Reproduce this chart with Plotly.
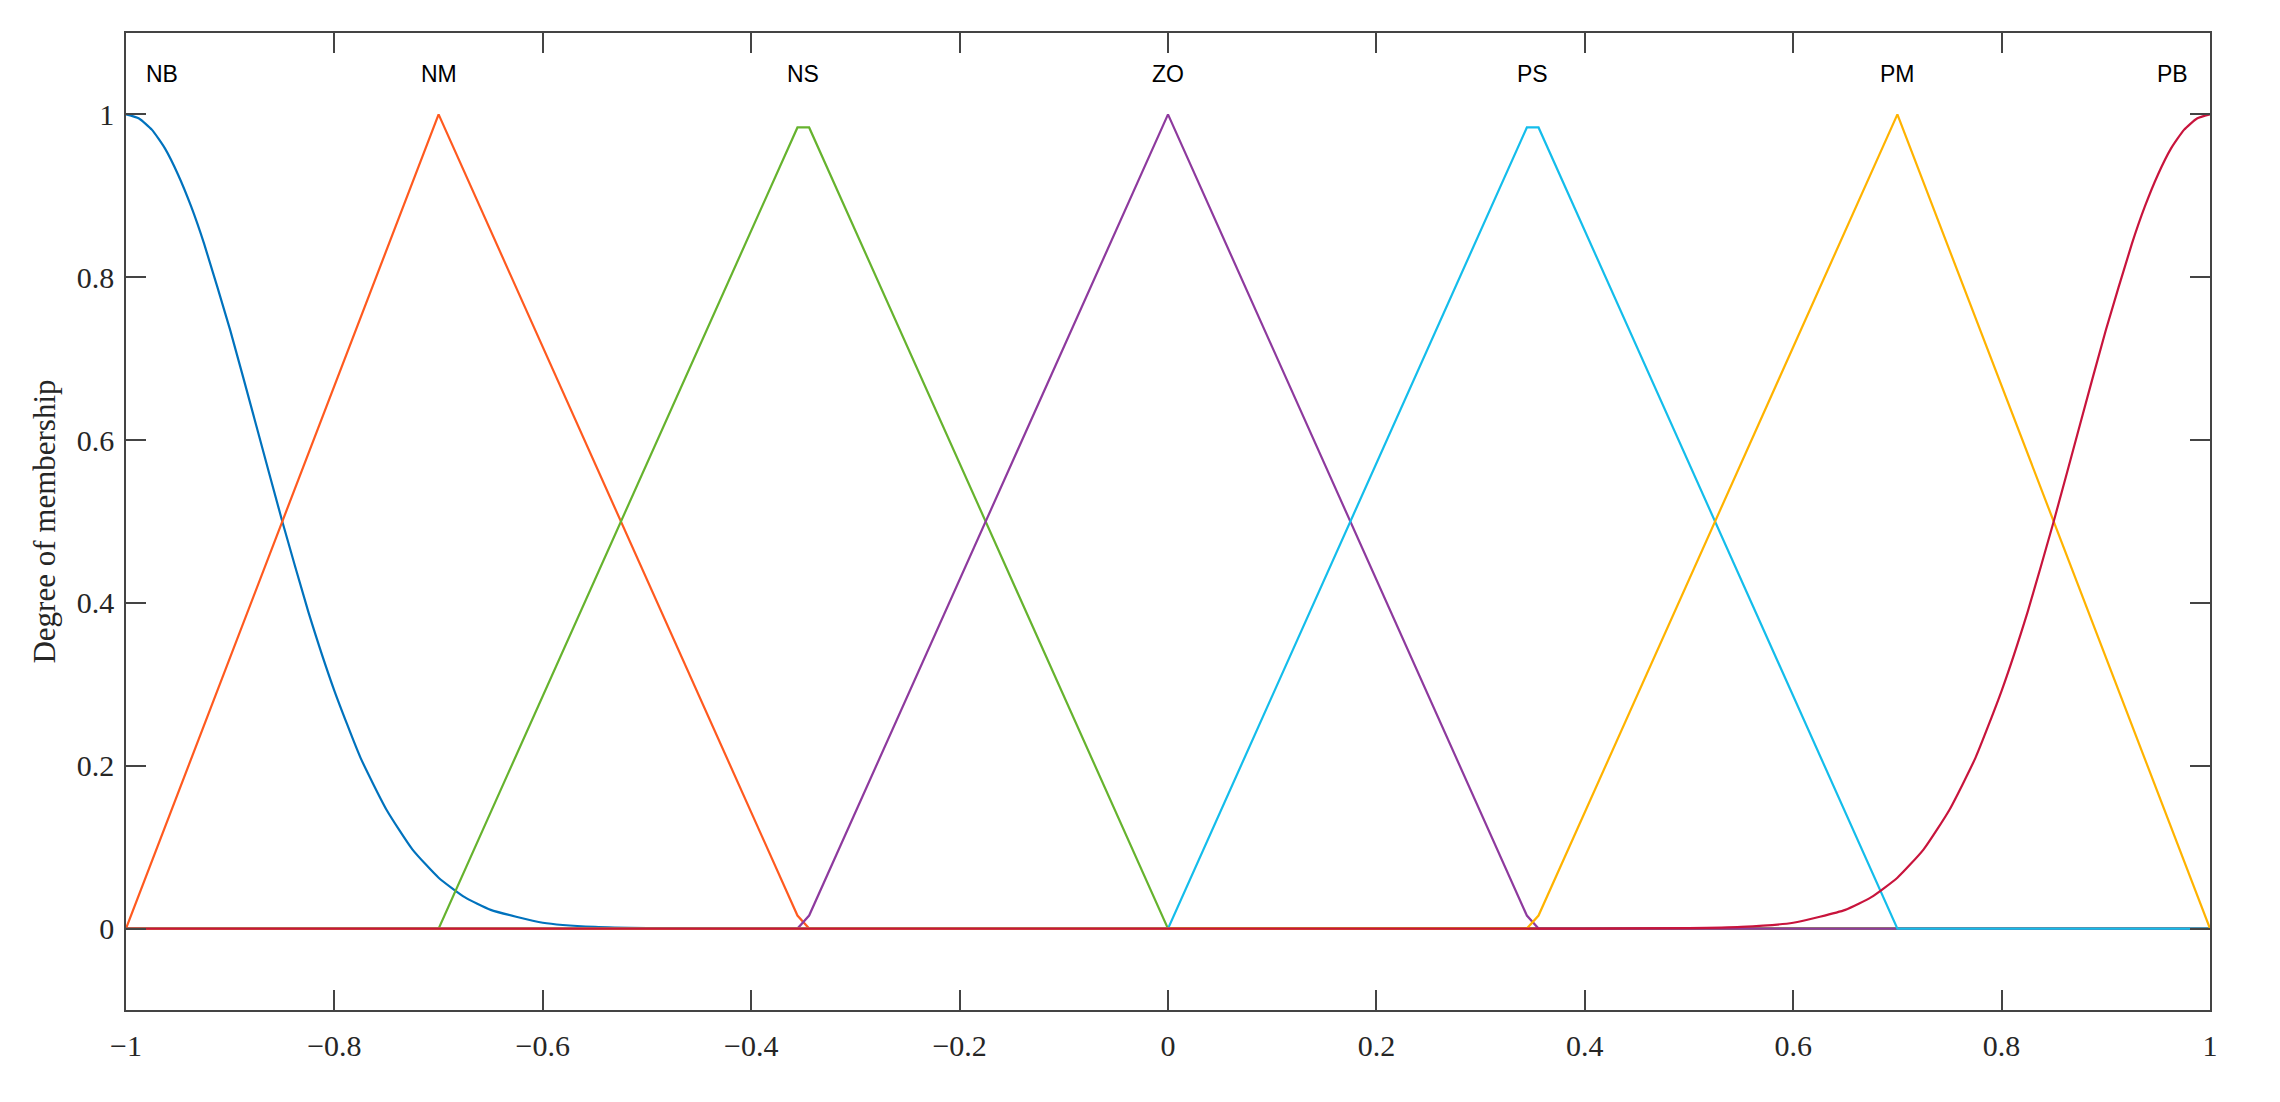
import plotly.graph_objects as go

# membership functions
names = ["NB", "NM", "NS", "ZO", "PS", "PM", "PB"]
colors = ["#0072BD", "#FF5A1F", "#66B32E", "#8E3A9E", "#14BDEB", "#FFB300", "#C8143C"]

# NB: smooth shoulder on the left
nb_x = [-1.0, -0.9875, -0.975, -0.9625, -0.95, -0.9375, -0.925, -0.9, -0.875, -0.85, -0.825,
        -0.8, -0.775, -0.75, -0.725, -0.7, -0.675, -0.65, -0.6, -0.55, -0.5, -0.4, 1.0]
nb_y = [1.0, 0.995, 0.981, 0.958, 0.926, 0.887, 0.841, 0.735, 0.618, 0.5, 0.389,
        0.292, 0.21, 0.146, 0.097, 0.0625, 0.0386, 0.023, 0.0072, 0.002, 0.0005, 0.0, 0.0]

nm_x = [-1.0, -0.7, -0.3556, -0.3444, 1.0]
nm_y = [0.0, 1.0, 0.016, 0.0, 0.0]

ns_x = [-1.0, -0.7, -0.3556, -0.3444, 0.0, 1.0]
ns_y = [0.0, 0.0, 0.984, 0.984, 0.0, 0.0]

zo_x = [-1.0, -0.3556, -0.3444, 0.0, 0.3444, 0.3556, 1.0]
zo_y = [0.0, 0.0, 0.016, 1.0, 0.016, 0.0, 0.0]

ps_x = [-1.0, 0.0, 0.3444, 0.3556, 0.7, 1.0]
ps_y = [0.0, 0.0, 0.984, 0.984, 0.0, 0.0]

pm_x = [-1.0, 0.3444, 0.3556, 0.7, 1.0]
pm_y = [0.0, 0.0, 0.016, 1.0, 0.0]

# PB: smooth shoulder on the right
pb_x = [-1.0, 0.4, 0.5, 0.55, 0.6, 0.65, 0.675, 0.7, 0.725, 0.75, 0.775, 0.8,
        0.825, 0.85, 0.875, 0.9, 0.925, 0.9375, 0.95, 0.9625, 0.975, 0.9875, 1.0]
pb_y = [0.0, 0.0, 0.0005, 0.002, 0.0072, 0.023, 0.0386, 0.0625, 0.097, 0.146, 0.21, 0.292,
        0.389, 0.5, 0.618, 0.735, 0.841, 0.887, 0.926, 0.958, 0.981, 0.995, 1.0]

label_x = [-0.965, -0.7, -0.35, 0.0, 0.35, 0.7, 0.964]
label_y = 1.05

x_ticks = [-1, -0.8, -0.6, -0.4, -0.2, 0, 0.2, 0.4, 0.6, 0.8, 1]
x_ticktext = ["\u22121", "\u22120.8", "\u22120.6", "\u22120.4", "\u22120.2", "0",
              "0.2", "0.4", "0.6", "0.8", "1"]
y_ticks = [0, 0.2, 0.4, 0.6, 0.8, 1]
y_ticktext = ["0", "0.2", "0.4", "0.6", "0.8", "1"]

series = [(nb_x, nb_y, "spline"), (nm_x, nm_y, "linear"), (ns_x, ns_y, "linear"),
          (zo_x, zo_y, "linear"), (ps_x, ps_y, "linear"), (pm_x, pm_y, "linear"),
          (pb_x, pb_y, "spline")]

fig = go.Figure()
for (xs, ys, shape), name, col in zip(series, names, colors):
    line = dict(color=col, width=2.2, shape=shape)
    if shape == "spline":
        line["smoothing"] = 0.5
    fig.add_trace(go.Scatter(x=xs, y=ys, mode="lines", name=name, line=line))

for name, lx in zip(names, label_x):
    fig.add_annotation(x=lx, y=label_y, text=name, showarrow=False,
                       font=dict(family="Liberation Sans, Arial", size=23, color="black"))

axis_style = dict(showgrid=False, zeroline=False, showline=True, mirror="ticks",
                  linecolor="#444444", linewidth=1.5, ticks="inside", ticklen=20,
                  tickwidth=1.5, tickcolor="#444444",
                  tickfont=dict(family="Liberation Serif, Times New Roman", size=30, color="#262626"))

fig.update_xaxes(range=[-1, 1], tickvals=x_ticks, ticktext=x_ticktext,
                 ticklabelstandoff=8, **axis_style)
fig.update_yaxes(range=[-0.1, 1.1], tickvals=y_ticks, ticktext=y_ticktext,
                 ticklabelstandoff=4,
                 title=dict(text="Degree of membership", standoff=12,
                            font=dict(family="Liberation Serif, Times New Roman", size=31, color="#262626")),
                 **axis_style)

fig.update_layout(width=2280, height=1102, showlegend=False,
                  plot_bgcolor="white", paper_bgcolor="white",
                  margin=dict(l=118, r=78, t=25, b=100))

fig.write_html("out.html")
